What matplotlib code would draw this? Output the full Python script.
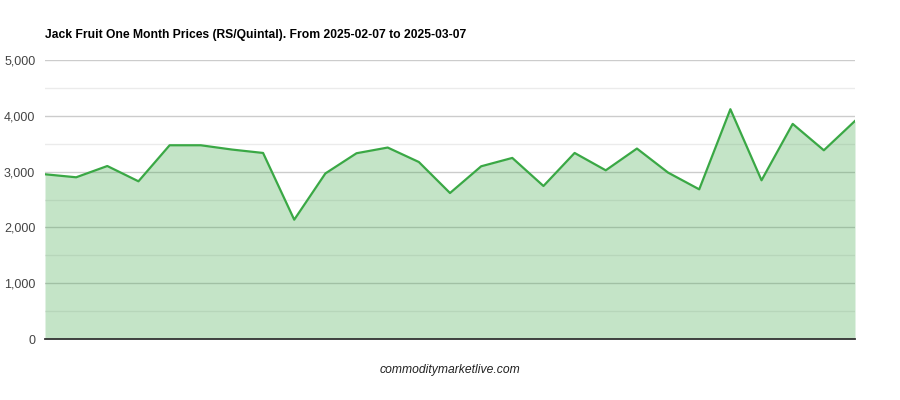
import matplotlib
matplotlib.use("Agg")
import matplotlib.pyplot as plt
from matplotlib.ticker import FuncFormatter, MultipleLocator

plt.rcParams['font.family'] = ['Liberation Sans', 'DejaVu Sans']

title = "Jack Fruit One Month Prices (RS/Quintal). From 2025-02-07 to 2025-03-07"
prices = [2952, 2898, 3100, 2826, 3472, 3472, 3395, 3334, 2138, 2967,
          3329, 3431, 3172, 2616, 3095, 3245, 2742, 3334, 3023, 3413,
          2982, 2682, 4118, 2844, 3855, 3382, 3908]
y_ticks = [0, 1000, 2000, 3000, 4000, 5000]
watermark = "commoditymarketlive.com"

x = list(range(len(prices)))

fig = plt.figure(figsize=(9, 4), dpi=100)
ax = fig.add_axes([45/900, 1 - 339/400, 810/900, 279/400])

ax.fill_between(x, prices, 0, color='#43a84d', alpha=0.31, linewidth=0, zorder=2)
ax.plot(x, prices, color='#3aa845', linewidth=1.6, zorder=3)

ax.set_xlim(0, len(prices) - 1)
ax.set_ylim(0, 5000)
ax.set_yticks(y_ticks)
ax.yaxis.set_major_formatter(FuncFormatter(lambda v, p: f"{int(v):,}"))
ax.yaxis.set_minor_locator(MultipleLocator(500))
ax.grid(True, which='major', axis='y', color='#cccccc', linewidth=1, zorder=1)
ax.grid(True, which='minor', axis='y', color='#ebebeb', linewidth=1, zorder=1)
ax.set_axisbelow(True)
ax.set_xticks([])
ax.tick_params(axis='y', which='both', length=0, labelsize=9, labelcolor='#444444', pad=7)
for s in ['top', 'right', 'left']:
    ax.spines[s].set_visible(False)
ax.spines['bottom'].set_color('#333333')
ax.spines['bottom'].set_linewidth(1.3)
ax.spines['bottom'].set_zorder(4)

fig.text(45/900, 1 - 35/400, title, fontsize=8.7, fontweight='bold', color='#000000',
         ha='left', va='center')
fig.text(450/900, 1 - 370/400, watermark, fontsize=8.7, style='italic', color='#222222',
         ha='center', va='center')

fig.savefig('out.png', dpi=100, facecolor='white')
